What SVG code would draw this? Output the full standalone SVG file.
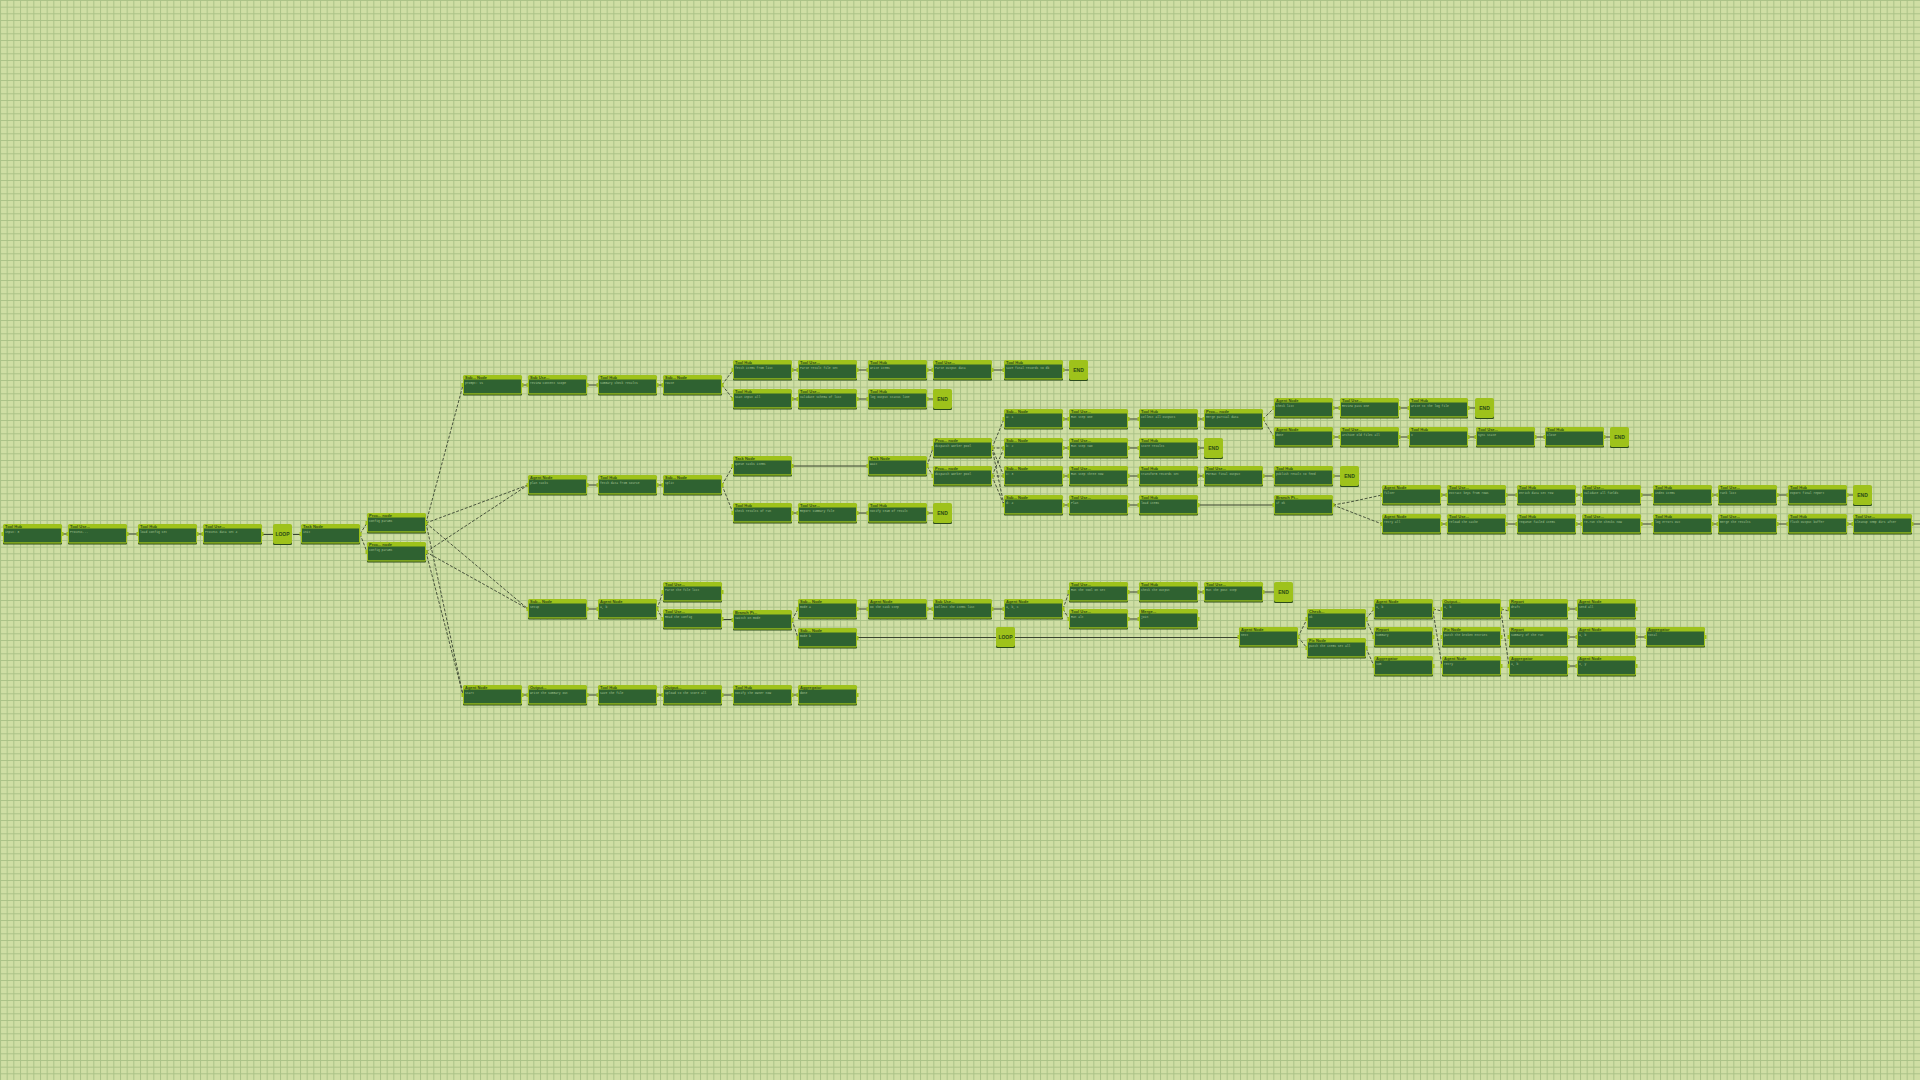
<svg xmlns="http://www.w3.org/2000/svg" xmlns:xlink="http://www.w3.org/1999/xlink" width="1920" height="1080" viewBox="0 0 1920 1080">
<defs>
<style>
.o{fill:#9ec21b}
.b{fill:#2f6231}
.s{fill:#2a4a1d}
.t{font-family:"Liberation Sans",Arial,sans-serif;font-size:4px;font-weight:bold;fill:#2b4a18}
.d{font-family:"Liberation Mono",monospace;font-size:3px;fill:#a7c694}
.e{font-family:"Liberation Sans",Arial,sans-serif;font-size:5px;font-weight:bold;fill:#2b4a18;text-anchor:middle}
.c{stroke:#3a4531;stroke-width:1;fill:none}
.k{stroke:#3a4531;stroke-width:0.9;fill:none;stroke-dasharray:3 1.6}
</style>
<pattern id="grid" width="6.6667" height="6.6667" patternUnits="userSpaceOnUse">
<rect width="6.6667" height="6.6667" fill="#cfdea4"/>
<path d="M0 0.5H6.6667M0.5 0V6.6667" stroke="#aac287" stroke-width="1" fill="none"/>
</pattern>
<g id="nf">
<rect class="s" x="0" y="1.6" width="59" height="19" rx="1"/>
<rect class="o" x="0" y="0" width="59" height="19.5" rx="1.5"/>
<rect class="b" x="1" y="4.5" width="57" height="13.8"/>
<rect class="o" x="58.5" y="8" width="2" height="4"/>
<rect class="o" x="-1.5" y="8" width="2" height="4"/>
</g>
<g id="ef">
<rect class="s" x="0" y="1.6" width="19" height="19.5" rx="1.5"/>
<rect class="o" x="0" y="0" width="19" height="20" rx="2"/>
</g>
</defs>
<rect width="1920" height="1080" fill="url(#grid)"/>

<g id="connectors">
<!-- main row -->
<path class="c" d="M62 534H68M127 534H138M197 534H203M262 534.5H273M293 534.5H301"/>
<path class="k" d="M360 534L367 523M360 534L367 552"/>
<!-- B fan-out -->
<path class="k" d="M426 523L463 385M426 523L528 485M426 552L528 485M426 523L528 609M426 552L528 609M426 523L463 695M426 552L463 695"/>
<!-- C row & D fork -->
<path class="c" d="M522 385H528M587 385H598M657 385H663"/>
<path class="k" d="M722 385L733 370M722 385L733 399"/>
<path class="c" d="M792 370H798M857 370H868M927 370H933M992 370H1004M1063 370H1069"/>
<path class="c" d="M792 399H798M857 399H868M927 399H933"/>
<!-- E row & F fork -->
<path class="c" d="M587 485H598M657 485H663"/>
<path class="k" d="M722 485L733 466M722 485L733 513"/>
<path class="c" d="M792 466H868"/>
<path class="c" d="M792 513H798M857 513H868M927 513H933"/>
<path class="k" d="M927 466L933 448M927 466L933 476"/>
<!-- G to H fan -->
<path class="k" d="M992 448L1004 419M992 448L1004 448M992 448L1004 476M992 448L1004 505M992 476L1004 448M992 476L1004 476M992 476L1004 505"/>
<path class="c" d="M1063 419H1069M1128 419H1139M1198 419H1204"/>
<path class="k" d="M1263 419L1274 408M1263 419L1274 437"/>
<path class="c" d="M1063 448H1069M1128 448H1139M1198 448H1204"/>
<path class="c" d="M1063 476H1069M1128 476H1139M1198 476H1204M1263 476H1274M1333 476H1340"/>
<path class="c" d="M1063 505H1069M1128 505H1139M1198 505H1274"/>
<path class="c" d="M1333 408H1340M1399 408H1409M1468 408H1475"/>
<path class="c" d="M1333 437H1340M1399 437H1409M1468 437H1476M1535 437H1545M1604 437H1610"/>
<path class="k" d="M1333 505L1350 502L1382 495M1333 505L1382 524"/>
<path class="c" d="M1441 495H1447M1506 495H1517M1576 495H1582M1641 495H1653M1712 495H1718M1777 495H1788M1847 495H1853"/>
<path class="c" d="M1441 524H1447M1506 524H1517M1576 524H1582M1641 524H1653M1712 524H1718M1777 524H1788M1847 524H1853M1912 524H1920"/>
<!-- lower branch -->
<path class="c" d="M587 609H598"/>
<path class="k" d="M657 609L663 592M657 609L663 619"/>
<path class="c" d="M722 619.5H733"/>
<path class="k" d="M792 620L798 609M792 620L798 638"/>
<path class="c" d="M857 609H868M927 609H933M992 609H1004"/>
<path class="k" d="M1063 609L1069 592M1063 609L1069 619"/>
<path class="c" d="M1128 592H1139M1198 592H1204M1263 592H1274"/>
<path class="c" d="M1128 619H1139"/>
<path class="c" d="M857 637.5H996M1015 637.5H1239"/>
<path class="k" d="M1298 637L1307 619M1298 637L1307 648"/>
<path class="k" d="M1366 619L1374 609M1366 619L1374 637M1366 648L1374 666"/>
<path class="k" d="M1433 609L1442 611M1433 611L1442 666"/>
<path class="k" d="M1501 609L1509 611M1501 611L1509 666"/>
<path class="c" d="M1568 609H1577M1568 637H1577M1568 666H1577M1636 637H1646"/>
<!-- bottom row -->
<path class="c" d="M522 695H528M587 695H598M657 695H663M722 695H733M792 695H798"/>
</g>

<!-- main row -->
<g id="a1" transform="translate(3,524)"><use href="#nf"/><text class="t" x="2" y="3.8">Tool Hub</text><text class="d" x="2" y="8.6">input: 8</text></g>
<g id="a2" transform="translate(68,524)"><use href="#nf"/><text class="t" x="2" y="3.8">Tool Use...</text><text class="d" x="2" y="8.6">Process...</text></g>
<g id="a3" transform="translate(138,524)"><use href="#nf"/><text class="t" x="2" y="3.8">Tool Hub</text><text class="d" x="2" y="8.6">load config set</text></g>
<g id="a4" transform="translate(203,524)"><use href="#nf"/><text class="t" x="2" y="3.8">Tool Use...</text><text class="d" x="2" y="8.6">Process data set 4</text></g>
<g id="loop1" transform="translate(273,524)"><use href="#ef"/><text class="e" x="9.5" y="12.3">LOOP</text></g>
<g id="a5" transform="translate(301,524)"><use href="#nf"/><text class="t" x="2" y="3.8">Task Node</text><text class="d" x="2" y="8.6">init</text></g>
<g id="b1" transform="translate(367,513)"><use href="#nf"/><text class="t" x="2" y="3.8">Proc... node</text><text class="d" x="2" y="8.6">config params</text></g>
<g id="b2" transform="translate(367,542)"><use href="#nf"/><text class="t" x="2" y="3.8">Proc... node</text><text class="d" x="2" y="8.6">config params</text></g>

<!-- C row -->
<g id="c1" transform="translate(463,375)"><use href="#nf"/><text class="t" x="2" y="3.8">Sub... Node</text><text class="d" x="2" y="8.6">prompt: v1</text></g>
<g id="c2" transform="translate(528,375)"><use href="#nf"/><text class="t" x="2" y="3.8">Sub Use...</text><text class="d" x="2" y="8.6">review content scope</text></g>
<g id="c3" transform="translate(598,375)"><use href="#nf"/><text class="t" x="2" y="3.8">Tool Hub</text><text class="d" x="2" y="8.6">summary check results</text></g>
<g id="c4" transform="translate(663,375)"><use href="#nf"/><text class="t" x="2" y="3.8">Sub... Node</text><text class="d" x="2" y="8.6">route</text></g>

<!-- D upper -->
<g id="d1" transform="translate(733,360)"><use href="#nf"/><text class="t" x="2" y="3.8">Tool Hub</text><text class="d" x="2" y="8.6">fetch items from list</text></g>
<g id="d2" transform="translate(798,360)"><use href="#nf"/><text class="t" x="2" y="3.8">Tool Use...</text><text class="d" x="2" y="8.6">Parse result file set</text></g>
<g id="d3" transform="translate(868,360)"><use href="#nf"/><text class="t" x="2" y="3.8">Tool Hub</text><text class="d" x="2" y="8.6">write items</text></g>
<g id="d4" transform="translate(933,360)"><use href="#nf"/><text class="t" x="2" y="3.8">Tool Use...</text><text class="d" x="2" y="8.6">Parse  output data</text></g>
<g id="d5" transform="translate(1004,360)"><use href="#nf"/><text class="t" x="2" y="3.8">Tool Hub</text><text class="d" x="2" y="8.6">save final records to db</text></g>
<g id="end1" transform="translate(1069,360)"><use href="#ef"/><text class="e" x="9.5" y="12.3">END</text></g>

<!-- D lower -->
<g id="d6" transform="translate(733,389)"><use href="#nf"/><text class="t" x="2" y="3.8">Tool Hub</text><text class="d" x="2" y="8.6">scan input  all</text></g>
<g id="d7" transform="translate(798,389)"><use href="#nf"/><text class="t" x="2" y="3.8">Tool Use...</text><text class="d" x="2" y="8.6">Validate schema of list</text></g>
<g id="d8" transform="translate(868,389)"><use href="#nf"/><text class="t" x="2" y="3.8">Tool Hub</text><text class="d" x="2" y="8.6">log output status line</text></g>
<g id="end2" transform="translate(933,389)"><use href="#ef"/><text class="e" x="9.5" y="12.3">END</text></g>

<!-- E row -->
<g id="e1" transform="translate(528,475)"><use href="#nf"/><text class="t" x="2" y="3.8">Agent Node</text><text class="d" x="2" y="8.6">plan tasks</text></g>
<g id="e2" transform="translate(598,475)"><use href="#nf"/><text class="t" x="2" y="3.8">Tool Hub</text><text class="d" x="2" y="8.6">fetch data from source</text></g>
<g id="e3" transform="translate(663,475)"><use href="#nf"/><text class="t" x="2" y="3.8">Sub... Node</text><text class="d" x="2" y="8.6">split</text></g>
<g id="f1" transform="translate(733,456)"><use href="#nf"/><text class="t" x="2" y="3.8">Task Node</text><text class="d" x="2" y="8.6">queue tasks items</text></g>
<g id="f2" transform="translate(868,456)"><use href="#nf"/><text class="t" x="2" y="3.8">Task Node</text><text class="d" x="2" y="8.6">wait</text></g>
<g id="f3" transform="translate(733,503)"><use href="#nf"/><text class="t" x="2" y="3.8">Tool Hub</text><text class="d" x="2" y="8.6">check results of run</text></g>
<g id="f4" transform="translate(798,503)"><use href="#nf"/><text class="t" x="2" y="3.8">Tool Use...</text><text class="d" x="2" y="8.6">Report summary file</text></g>
<g id="f5" transform="translate(868,503)"><use href="#nf"/><text class="t" x="2" y="3.8">Tool Hub</text><text class="d" x="2" y="8.6">notify team of result</text></g>
<g id="end3" transform="translate(933,503)"><use href="#ef"/><text class="e" x="9.5" y="12.3">END</text></g>
<g id="g1" transform="translate(933,438)"><use href="#nf"/><text class="t" x="2" y="3.8">Proc... node</text><text class="d" x="2" y="8.6">dispatch worker pool</text></g>
<g id="g2" transform="translate(933,466)"><use href="#nf"/><text class="t" x="2" y="3.8">Proc... node</text><text class="d" x="2" y="8.6">dispatch worker pool</text></g>

<!-- H rows -->
<g id="h11" transform="translate(1004,409)"><use href="#nf"/><text class="t" x="2" y="3.8">Sub... Node</text><text class="d" x="2" y="8.6">a: 1</text></g>
<g id="h12" transform="translate(1069,409)"><use href="#nf"/><text class="t" x="2" y="3.8">Tool Use...</text><text class="d" x="2" y="8.6">Run step one</text></g>
<g id="h13" transform="translate(1139,409)"><use href="#nf"/><text class="t" x="2" y="3.8">Tool Hub</text><text class="d" x="2" y="8.6">collect all outputs</text></g>
<g id="h14" transform="translate(1204,409)"><use href="#nf"/><text class="t" x="2" y="3.8">Proc... node</text><text class="d" x="2" y="8.6">Merge partial data</text></g>
<g id="h21" transform="translate(1004,438)"><use href="#nf"/><text class="t" x="2" y="3.8">Sub... Node</text><text class="d" x="2" y="8.6">b: 2</text></g>
<g id="h22" transform="translate(1069,438)"><use href="#nf"/><text class="t" x="2" y="3.8">Tool Use...</text><text class="d" x="2" y="8.6">Run step  two</text></g>
<g id="h23" transform="translate(1139,438)"><use href="#nf"/><text class="t" x="2" y="3.8">Tool Hub</text><text class="d" x="2" y="8.6">store  results</text></g>
<g id="end4" transform="translate(1204,438)"><use href="#ef"/><text class="e" x="9.5" y="12.3">END</text></g>
<g id="h31" transform="translate(1004,466)"><use href="#nf"/><text class="t" x="2" y="3.8">Sub... Node</text><text class="d" x="2" y="8.6">c: 3</text></g>
<g id="h32" transform="translate(1069,466)"><use href="#nf"/><text class="t" x="2" y="3.8">Tool Use...</text><text class="d" x="2" y="8.6">Run step three now</text></g>
<g id="h33" transform="translate(1139,466)"><use href="#nf"/><text class="t" x="2" y="3.8">Tool Hub</text><text class="d" x="2" y="8.6">transform records set</text></g>
<g id="h34" transform="translate(1204,466)"><use href="#nf"/><text class="t" x="2" y="3.8">Tool Use...</text><text class="d" x="2" y="8.6">Format final output</text></g>
<g id="h35" transform="translate(1274,466)"><use href="#nf"/><text class="t" x="2" y="3.8">Tool Hub</text><text class="d" x="2" y="8.6">publish result to feed</text></g>
<g id="end5" transform="translate(1340,466)"><use href="#ef"/><text class="e" x="9.5" y="12.3">END</text></g>
<g id="h41" transform="translate(1004,495)"><use href="#nf"/><text class="t" x="2" y="3.8">Sub... Node</text><text class="d" x="2" y="8.6">d: 4</text></g>
<g id="h42" transform="translate(1069,495)"><use href="#nf"/><text class="t" x="2" y="3.8">Tool Use...</text><text class="d" x="2" y="8.6">Plan</text></g>
<g id="h43" transform="translate(1139,495)"><use href="#nf"/><text class="t" x="2" y="3.8">Tool Hub</text><text class="d" x="2" y="8.6">load items</text></g>
<g id="h44" transform="translate(1274,495)"><use href="#nf"/><text class="t" x="2" y="3.8">Branch Pt...</text><text class="d" x="2" y="8.6">if ok</text></g>

<!-- I rows -->
<g id="i11" transform="translate(1274,398)"><use href="#nf"/><text class="t" x="2" y="3.8">Agent Node</text><text class="d" x="2" y="8.6">check list</text></g>
<g id="i12" transform="translate(1340,398)"><use href="#nf"/><text class="t" x="2" y="3.8">Tool Use...</text><text class="d" x="2" y="8.6">Review  pass  one</text></g>
<g id="i13" transform="translate(1409,398)"><use href="#nf"/><text class="t" x="2" y="3.8">Tool Hub</text><text class="d" x="2" y="8.6">Write to the log file</text></g>
<g id="end6" transform="translate(1475,398)"><use href="#ef"/><text class="e" x="9.5" y="12.3">END</text></g>
<g id="i21" transform="translate(1274,427)"><use href="#nf"/><text class="t" x="2" y="3.8">Agent Node</text><text class="d" x="2" y="8.6">done</text></g>
<g id="i22" transform="translate(1340,427)"><use href="#nf"/><text class="t" x="2" y="3.8">Tool Use...</text><text class="d" x="2" y="8.6">archive  old files all</text></g>
<g id="i23" transform="translate(1409,427)"><use href="#nf"/><text class="t" x="2" y="3.8">Tool Hub</text><text class="d" x="2" y="8.6">x</text></g>
<g id="i24" transform="translate(1476,427)"><use href="#nf"/><text class="t" x="2" y="3.8">Tool Use...</text><text class="d" x="2" y="8.6">sync  state</text></g>
<g id="i25" transform="translate(1545,427)"><use href="#nf"/><text class="t" x="2" y="3.8">Tool Hub</text><text class="d" x="2" y="8.6">close</text></g>
<g id="end7" transform="translate(1610,427)"><use href="#ef"/><text class="e" x="9.5" y="12.3">END</text></g>

<!-- K rows -->
<g id="k11" transform="translate(1382,485)"><use href="#nf"/><text class="t" x="2" y="3.8">Agent Node</text><text class="d" x="2" y="8.6">filter</text></g>
<g id="k12" transform="translate(1447,485)"><use href="#nf"/><text class="t" x="2" y="3.8">Tool Use...</text><text class="d" x="2" y="8.6">extract  keys from rows</text></g>
<g id="k13" transform="translate(1517,485)"><use href="#nf"/><text class="t" x="2" y="3.8">Tool Hub</text><text class="d" x="2" y="8.6">enrich data set row</text></g>
<g id="k14" transform="translate(1582,485)"><use href="#nf"/><text class="t" x="2" y="3.8">Tool Use...</text><text class="d" x="2" y="8.6">validate  all fields</text></g>
<g id="k15" transform="translate(1653,485)"><use href="#nf"/><text class="t" x="2" y="3.8">Tool Hub</text><text class="d" x="2" y="8.6">index items</text></g>
<g id="k16" transform="translate(1718,485)"><use href="#nf"/><text class="t" x="2" y="3.8">Tool Use...</text><text class="d" x="2" y="8.6">rank  list</text></g>
<g id="k17" transform="translate(1788,485)"><use href="#nf"/><text class="t" x="2" y="3.8">Tool Hub</text><text class="d" x="2" y="8.6">export  final report</text></g>
<g id="end8" transform="translate(1853,485)"><use href="#ef"/><text class="e" x="9.5" y="12.3">END</text></g>
<g id="k21" transform="translate(1382,514)"><use href="#nf"/><text class="t" x="2" y="3.8">Agent Node</text><text class="d" x="2" y="8.6">retry all</text></g>
<g id="k22" transform="translate(1447,514)"><use href="#nf"/><text class="t" x="2" y="3.8">Tool Use...</text><text class="d" x="2" y="8.6">reload  the cache</text></g>
<g id="k23" transform="translate(1517,514)"><use href="#nf"/><text class="t" x="2" y="3.8">Tool Hub</text><text class="d" x="2" y="8.6">requeue  failed  items</text></g>
<g id="k24" transform="translate(1582,514)"><use href="#nf"/><text class="t" x="2" y="3.8">Tool Use...</text><text class="d" x="2" y="8.6">re-run  the  checks  now</text></g>
<g id="k25" transform="translate(1653,514)"><use href="#nf"/><text class="t" x="2" y="3.8">Tool Hub</text><text class="d" x="2" y="8.6">log  errors  out</text></g>
<g id="k26" transform="translate(1718,514)"><use href="#nf"/><text class="t" x="2" y="3.8">Tool Use...</text><text class="d" x="2" y="8.6">merge  the  results</text></g>
<g id="k27" transform="translate(1788,514)"><use href="#nf"/><text class="t" x="2" y="3.8">Tool Hub</text><text class="d" x="2" y="8.6">flush  output  buffer</text></g>
<g id="k28" transform="translate(1853,514)"><use href="#nf"/><text class="t" x="2" y="3.8">Tool Use...</text><text class="d" x="2" y="8.6">cleanup  temp  dirs  after</text></g>

<!-- lower branch -->
<g id="l1" transform="translate(528,599)"><use href="#nf"/><text class="t" x="2" y="3.8">Sub... Node</text><text class="d" x="2" y="8.6">setup</text></g>
<g id="l2" transform="translate(598,599)"><use href="#nf"/><text class="t" x="2" y="3.8">Agent Node</text><text class="d" x="2" y="8.6">a, b</text></g>
<g id="l3" transform="translate(663,582)"><use href="#nf"/><text class="t" x="2" y="3.8">Tool Use...</text><text class="d" x="2" y="8.6">Parse  the  file  list</text></g>
<g id="l4" transform="translate(663,609)"><use href="#nf"/><text class="t" x="2" y="3.8">Tool Use...</text><text class="d" x="2" y="8.6">Read  the  config</text></g>
<g id="m1" transform="translate(733,610)"><use href="#nf"/><text class="t" x="2" y="3.8">Branch Pt...</text><text class="d" x="2" y="8.6">  switch on mode</text></g>
<g id="n11" transform="translate(798,599)"><use href="#nf"/><text class="t" x="2" y="3.8">Sub... Node</text><text class="d" x="2" y="8.6">mode a</text></g>
<g id="n12" transform="translate(868,599)"><use href="#nf"/><text class="t" x="2" y="3.8">Agent Node</text><text class="d" x="2" y="8.6">Do the  task  step</text></g>
<g id="n13" transform="translate(933,599)"><use href="#nf"/><text class="t" x="2" y="3.8">Sub Use...</text><text class="d" x="2" y="8.6">Collect  the  items  list</text></g>
<g id="n14" transform="translate(1004,599)"><use href="#nf"/><text class="t" x="2" y="3.8">Agent Node</text><text class="d" x="2" y="8.6">a, b, c</text></g>
<g id="q11" transform="translate(1069,582)"><use href="#nf"/><text class="t" x="2" y="3.8">Tool Use...</text><text class="d" x="2" y="8.6">Run  the  tool  on  set</text></g>
<g id="q12" transform="translate(1139,582)"><use href="#nf"/><text class="t" x="2" y="3.8">Tool Hub</text><text class="d" x="2" y="8.6">  check  the  output</text></g>
<g id="q13" transform="translate(1204,582)"><use href="#nf"/><text class="t" x="2" y="3.8">Tool Use...</text><text class="d" x="2" y="8.6">Run  the  post  step</text></g>
<g id="end9" transform="translate(1274,582)"><use href="#ef"/><text class="e" x="9.5" y="12.3">END</text></g>
<g id="q21" transform="translate(1069,609)"><use href="#nf"/><text class="t" x="2" y="3.8">Tool Use...</text><text class="d" x="2" y="8.6">Run  alt</text></g>
<g id="q22" transform="translate(1139,609)"><use href="#nf"/><text class="t" x="2" y="3.8">Merge...</text><text class="d" x="2" y="8.6">join</text></g>
<g id="n21" transform="translate(798,628)"><use href="#nf"/><text class="t" x="2" y="3.8">Sub... Node</text><text class="d" x="2" y="8.6">mode b</text></g>
<g id="loop2" transform="translate(996,627)"><use href="#ef"/><text class="e" x="9.5" y="12.3">LOOP</text></g>
<g id="r1" transform="translate(1239,627)"><use href="#nf"/><text class="t" x="2" y="3.8">Agent Node</text><text class="d" x="2" y="8.6">next</text></g>
<g id="s1" transform="translate(1307,609)"><use href="#nf"/><text class="t" x="2" y="3.8">Check...</text><text class="d" x="2" y="8.6">ok</text></g>
<g id="s2" transform="translate(1307,638)"><use href="#nf"/><text class="t" x="2" y="3.8">Fix Node</text><text class="d" x="2" y="8.6">patch  the  items  set  all</text></g>
<g id="t1" transform="translate(1374,599)"><use href="#nf"/><text class="t" x="2" y="3.8">Agent Node</text><text class="d" x="2" y="8.6">a, b</text></g>
<g id="t2" transform="translate(1374,627)"><use href="#nf"/><text class="t" x="2" y="3.8">Report</text><text class="d" x="2" y="8.6">summary</text></g>
<g id="t3" transform="translate(1374,656)"><use href="#nf"/><text class="t" x="2" y="3.8">Aggregator</text><text class="d" x="2" y="8.6">sum</text></g>
<g id="u1" transform="translate(1442,599)"><use href="#nf"/><text class="t" x="2" y="3.8">Output...</text><text class="d" x="2" y="8.6">a, b</text></g>
<g id="u2" transform="translate(1442,627)"><use href="#nf"/><text class="t" x="2" y="3.8">Fix Node</text><text class="d" x="2" y="8.6">patch  the  broken  entries</text></g>
<g id="u3" transform="translate(1442,656)"><use href="#nf"/><text class="t" x="2" y="3.8">Agent Node</text><text class="d" x="2" y="8.6">retry</text></g>
<g id="v1" transform="translate(1509,599)"><use href="#nf"/><text class="t" x="2" y="3.8">Report</text><text class="d" x="2" y="8.6">draft</text></g>
<g id="v2" transform="translate(1509,627)"><use href="#nf"/><text class="t" x="2" y="3.8">Report</text><text class="d" x="2" y="8.6">summary  of  the  run</text></g>
<g id="v3" transform="translate(1509,656)"><use href="#nf"/><text class="t" x="2" y="3.8">Aggregator</text><text class="d" x="2" y="8.6">a, b</text></g>
<g id="w1" transform="translate(1577,599)"><use href="#nf"/><text class="t" x="2" y="3.8">Agent Node</text><text class="d" x="2" y="8.6">send  all</text></g>
<g id="w2" transform="translate(1577,627)"><use href="#nf"/><text class="t" x="2" y="3.8">Agent Node</text><text class="d" x="2" y="8.6">a, b</text></g>
<g id="w3" transform="translate(1577,656)"><use href="#nf"/><text class="t" x="2" y="3.8">Agent Node</text><text class="d" x="2" y="8.6">x, y</text></g>
<g id="x2" transform="translate(1646,627)"><use href="#nf"/><text class="t" x="2" y="3.8">Aggregator</text><text class="d" x="2" y="8.6">total</text></g>

<!-- bottom row -->
<g id="p1" transform="translate(463,685)"><use href="#nf"/><text class="t" x="2" y="3.8">Agent Node</text><text class="d" x="2" y="8.6">start</text></g>
<g id="p2" transform="translate(528,685)"><use href="#nf"/><text class="t" x="2" y="3.8">Output...</text><text class="d" x="2" y="8.6">write  the  summary  out</text></g>
<g id="p3" transform="translate(598,685)"><use href="#nf"/><text class="t" x="2" y="3.8">Tool Hub</text><text class="d" x="2" y="8.6">save  the  file</text></g>
<g id="p4" transform="translate(663,685)"><use href="#nf"/><text class="t" x="2" y="3.8">Output...</text><text class="d" x="2" y="8.6">upload  to  the  store  all</text></g>
<g id="p5" transform="translate(733,685)"><use href="#nf"/><text class="t" x="2" y="3.8">Tool Hub</text><text class="d" x="2" y="8.6">notify  the  owner  now</text></g>
<g id="p6" transform="translate(798,685)"><use href="#nf"/><text class="t" x="2" y="3.8">Aggregator</text><text class="d" x="2" y="8.6">done</text></g>
</svg>
